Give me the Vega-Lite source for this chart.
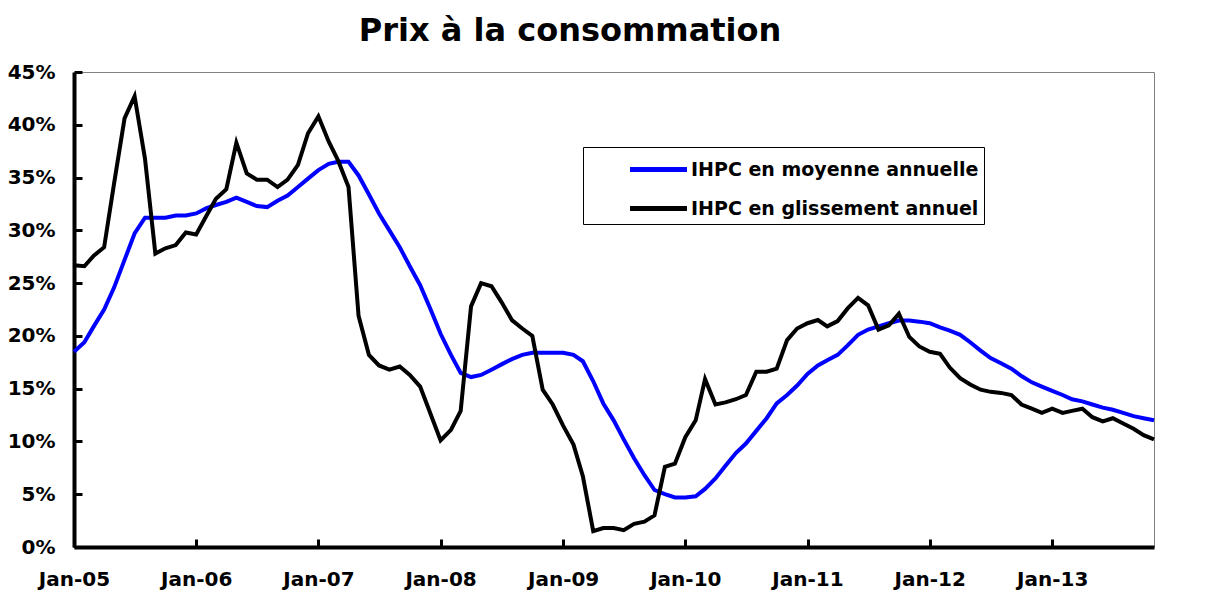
{
  "$schema": "https://vega.github.io/schema/vega-lite/v6.json",
  "width": 1080,
  "height": 475,
  "autosize": {"type": "none"},
  "padding": {"left": 74, "top": 72, "right": 53, "bottom": 45},
  "background": "white",
  "title": {
    "text": "Prix à la consommation",
    "font": "DejaVu Sans",
    "fontSize": 32,
    "fontWeight": "bold",
    "color": "black",
    "anchor": "middle",
    "dx": -44,
    "offset": 14
  },
  "config": {
    "view": {"stroke": "#808080", "strokeWidth": 1},
    "axis": {
      "domainColor": "black",
      "domainWidth": 4,
      "tickColor": "black",
      "tickWidth": 3,
      "tickSize": -8,
      "labelFont": "DejaVu Sans",
      "labelFontWeight": "bold",
      "labelFontSize": 20,
      "labelColor": "black",
      "grid": false,
      "title": null
    }
  },
  "data": {
    "values": [
      {"date": "2005-01-01", "m": 18.5, "g": 26.7},
      {"date": "2005-02-01", "m": 19.4, "g": 26.6},
      {"date": "2005-03-01", "m": 20.9, "g": 27.6},
      {"date": "2005-04-01", "m": 22.5, "g": 28.4},
      {"date": "2005-05-01", "m": 24.6, "g": 34.5},
      {"date": "2005-06-01", "m": 27.2, "g": 40.6},
      {"date": "2005-07-01", "m": 29.7, "g": 42.7},
      {"date": "2005-08-01", "m": 31.2, "g": 36.8},
      {"date": "2005-09-01", "m": 31.2, "g": 27.8},
      {"date": "2005-10-01", "m": 31.2, "g": 28.3},
      {"date": "2005-11-01", "m": 31.4, "g": 28.6},
      {"date": "2005-12-01", "m": 31.4, "g": 29.8},
      {"date": "2006-01-01", "m": 31.6, "g": 29.6},
      {"date": "2006-02-01", "m": 32.1, "g": 31.4},
      {"date": "2006-03-01", "m": 32.4, "g": 33.0},
      {"date": "2006-04-01", "m": 32.7, "g": 33.9},
      {"date": "2006-05-01", "m": 33.1, "g": 38.3},
      {"date": "2006-06-01", "m": 32.7, "g": 35.4},
      {"date": "2006-07-01", "m": 32.3, "g": 34.8},
      {"date": "2006-08-01", "m": 32.2, "g": 34.8},
      {"date": "2006-09-01", "m": 32.8, "g": 34.1},
      {"date": "2006-10-01", "m": 33.3, "g": 34.8},
      {"date": "2006-11-01", "m": 34.1, "g": 36.2},
      {"date": "2006-12-01", "m": 34.9, "g": 39.2},
      {"date": "2007-01-01", "m": 35.7, "g": 40.8},
      {"date": "2007-02-01", "m": 36.3, "g": 38.4},
      {"date": "2007-03-01", "m": 36.5, "g": 36.6},
      {"date": "2007-04-01", "m": 36.5, "g": 34.1},
      {"date": "2007-05-01", "m": 35.2, "g": 21.9},
      {"date": "2007-06-01", "m": 33.4, "g": 18.2},
      {"date": "2007-07-01", "m": 31.6, "g": 17.2},
      {"date": "2007-08-01", "m": 30.0, "g": 16.8},
      {"date": "2007-09-01", "m": 28.4, "g": 17.1},
      {"date": "2007-10-01", "m": 26.6, "g": 16.3},
      {"date": "2007-11-01", "m": 24.8, "g": 15.2},
      {"date": "2007-12-01", "m": 22.6, "g": 12.7},
      {"date": "2008-01-01", "m": 20.2, "g": 10.1},
      {"date": "2008-02-01", "m": 18.2, "g": 11.1},
      {"date": "2008-03-01", "m": 16.5, "g": 12.9},
      {"date": "2008-04-01", "m": 16.1, "g": 22.8},
      {"date": "2008-05-01", "m": 16.3, "g": 25.0},
      {"date": "2008-06-01", "m": 16.8, "g": 24.7},
      {"date": "2008-07-01", "m": 17.3, "g": 23.2},
      {"date": "2008-08-01", "m": 17.8, "g": 21.5},
      {"date": "2008-09-01", "m": 18.2, "g": 20.7},
      {"date": "2008-10-01", "m": 18.4, "g": 20.0},
      {"date": "2008-11-01", "m": 18.4, "g": 14.9},
      {"date": "2008-12-01", "m": 18.4, "g": 13.5},
      {"date": "2009-01-01", "m": 18.4, "g": 11.5},
      {"date": "2009-02-01", "m": 18.2, "g": 9.7},
      {"date": "2009-03-01", "m": 17.6, "g": 6.7},
      {"date": "2009-04-01", "m": 15.7, "g": 1.5},
      {"date": "2009-05-01", "m": 13.6, "g": 1.8},
      {"date": "2009-06-01", "m": 12.0, "g": 1.8},
      {"date": "2009-07-01", "m": 10.2, "g": 1.6},
      {"date": "2009-08-01", "m": 8.4, "g": 2.2},
      {"date": "2009-09-01", "m": 6.8, "g": 2.4},
      {"date": "2009-10-01", "m": 5.4, "g": 3.0},
      {"date": "2009-11-01", "m": 5.0, "g": 7.6},
      {"date": "2009-12-01", "m": 4.7, "g": 7.9},
      {"date": "2010-01-01", "m": 4.7, "g": 10.4},
      {"date": "2010-02-01", "m": 4.8, "g": 12.0},
      {"date": "2010-03-01", "m": 5.5, "g": 15.9},
      {"date": "2010-04-01", "m": 6.5, "g": 13.5},
      {"date": "2010-05-01", "m": 7.7, "g": 13.7},
      {"date": "2010-06-01", "m": 8.9, "g": 14.0},
      {"date": "2010-07-01", "m": 9.8, "g": 14.4},
      {"date": "2010-08-01", "m": 11.0, "g": 16.6},
      {"date": "2010-09-01", "m": 12.2, "g": 16.6},
      {"date": "2010-10-01", "m": 13.6, "g": 16.9},
      {"date": "2010-11-01", "m": 14.4, "g": 19.6},
      {"date": "2010-12-01", "m": 15.3, "g": 20.7},
      {"date": "2011-01-01", "m": 16.4, "g": 21.2},
      {"date": "2011-02-01", "m": 17.2, "g": 21.5},
      {"date": "2011-03-01", "m": 17.7, "g": 20.9},
      {"date": "2011-04-01", "m": 18.2, "g": 21.4},
      {"date": "2011-05-01", "m": 19.1, "g": 22.6},
      {"date": "2011-06-01", "m": 20.1, "g": 23.6},
      {"date": "2011-07-01", "m": 20.6, "g": 22.9},
      {"date": "2011-08-01", "m": 20.9, "g": 20.6},
      {"date": "2011-09-01", "m": 21.2, "g": 21.0},
      {"date": "2011-10-01", "m": 21.45, "g": 22.1},
      {"date": "2011-11-01", "m": 21.45, "g": 19.9},
      {"date": "2011-12-01", "m": 21.35, "g": 19.0},
      {"date": "2012-01-01", "m": 21.2, "g": 18.5},
      {"date": "2012-02-01", "m": 20.8, "g": 18.3},
      {"date": "2012-03-01", "m": 20.5, "g": 17.0},
      {"date": "2012-04-01", "m": 20.1, "g": 16.0},
      {"date": "2012-05-01", "m": 19.4, "g": 15.4},
      {"date": "2012-06-01", "m": 18.6, "g": 14.9},
      {"date": "2012-07-01", "m": 17.9, "g": 14.7},
      {"date": "2012-08-01", "m": 17.4, "g": 14.6},
      {"date": "2012-09-01", "m": 16.9, "g": 14.4},
      {"date": "2012-10-01", "m": 16.2, "g": 13.5},
      {"date": "2012-11-01", "m": 15.6, "g": 13.1},
      {"date": "2012-12-01", "m": 15.2, "g": 12.7},
      {"date": "2013-01-01", "m": 14.8, "g": 13.1},
      {"date": "2013-02-01", "m": 14.4, "g": 12.7},
      {"date": "2013-03-01", "m": 14.0, "g": 12.9},
      {"date": "2013-04-01", "m": 13.8, "g": 13.1},
      {"date": "2013-05-01", "m": 13.5, "g": 12.3},
      {"date": "2013-06-01", "m": 13.2, "g": 11.9},
      {"date": "2013-07-01", "m": 13.0, "g": 12.2},
      {"date": "2013-08-01", "m": 12.7, "g": 11.7},
      {"date": "2013-09-01", "m": 12.4, "g": 11.2},
      {"date": "2013-10-01", "m": 12.2, "g": 10.6},
      {"date": "2013-11-01", "m": 12.0, "g": 10.2}
    ]
  },
  "encoding": {
    "x": {
      "field": "date",
      "type": "temporal",
      "title": null,
      "scale": {
        "type": "utc",
        "domain": [
          {"year": 2005, "month": 1, "date": 1, "utc": true},
          {"year": 2013, "month": 11, "date": 1, "utc": true}
        ]
      },
      "axis": {
        "values": [
          {"year": 2005, "month": 1, "date": 1, "utc": true},
          {"year": 2006, "month": 1, "date": 1, "utc": true},
          {"year": 2007, "month": 1, "date": 1, "utc": true},
          {"year": 2008, "month": 1, "date": 1, "utc": true},
          {"year": 2009, "month": 1, "date": 1, "utc": true},
          {"year": 2010, "month": 1, "date": 1, "utc": true},
          {"year": 2011, "month": 1, "date": 1, "utc": true},
          {"year": 2012, "month": 1, "date": 1, "utc": true},
          {"year": 2013, "month": 1, "date": 1, "utc": true}
        ],
        "labelExpr": "utcFormat(datum.value, '%b-%y')",
        "labelFlush": false,
        "labelOverlap": false,
        "labelPadding": 30
      }
    }
  },
  "layer": [
    {
      "mark": {"type": "line", "strokeWidth": 4},
      "encoding": {
        "y": {
          "field": "m",
          "type": "quantitative",
          "title": null,
          "scale": {"domain": [0, 45], "nice": false},
          "axis": {
            "values": [0, 5, 10, 15, 20, 25, 30, 35, 40, 45],
            "labelExpr": "datum.value + '%'",
            "labelPadding": 27
          }
        },
        "color": {
          "datum": "IHPC en moyenne annuelle",
          "type": "nominal",
          "scale": {
            "domain": ["IHPC en moyenne annuelle", "IHPC en glissement annuel"],
            "range": ["#0000FF", "#000000"]
          },
          "legend": {
            "orient": "none",
            "legendX": 509,
            "legendY": 75,
            "title": null,
            "strokeColor": "black",
            "fillColor": "white",
            "padding": 5,
            "symbolType": "M-1.9,0H1.9",
            "symbolStrokeWidth": 5,
            "symbolSize": 900,
            "symbolOffset": 53,
            "labelOffset": 15,
            "labelFont": "DejaVu Sans",
            "labelFontWeight": "bold",
            "labelFontSize": 19,
            "labelColor": "black",
            "labelLimit": 500,
            "rowPadding": 11
          }
        }
      }
    },
    {
      "mark": {"type": "line", "strokeWidth": 4},
      "encoding": {
        "y": {"field": "g", "type": "quantitative", "title": null},
        "color": {"datum": "IHPC en glissement annuel", "type": "nominal"}
      }
    }
  ]
}
